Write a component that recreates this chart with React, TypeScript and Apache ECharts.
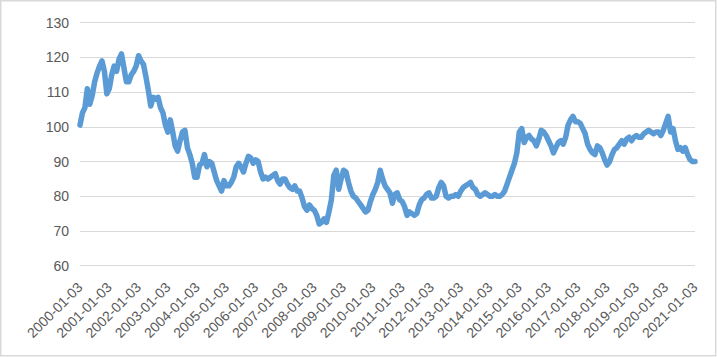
import React, { useEffect, useRef } from "react";
import * as echarts from "echarts";

const years = ["2000","2001","2002","2003","2004","2005","2006","2007","2008","2009","2010","2011","2012","2013","2014","2015","2016","2017","2018","2019","2020"];

const v2000 = [100.5, 104, 105.5, 111, 106.5, 109, 113, 115.5, 117.5, 119, 116, 109.5];
const v2001 = [111, 115, 117.5, 116, 119.5, 121, 117, 113, 113, 115, 116, 117.5];
const v2002 = [120.5, 119, 118, 114.5, 110.5, 106, 108.5, 108, 108.5, 105.5, 104, 100.5];
const v2003 = [98.5, 102, 98.5, 94.5, 93, 96, 98.5, 99, 94, 92, 89.5, 85.5];
const v2004 = [85.5, 89, 89.5, 92, 88.5, 90, 89.5, 87, 84.5, 83, 81.5, 84.5];
const v2005 = [83, 83, 84, 85.5, 88.5, 89.5, 88.5, 87, 89.5, 91.5, 91, 89.5];
const v2006 = [90.5, 90, 87, 85, 85.5, 85, 85.5, 86, 86.5, 84.5, 83.5, 85];
const v2007 = [85, 83.5, 82.5, 82, 83, 81.5, 81.5, 79.5, 77, 76, 77.5, 76.5];
const v2008 = [76, 74.5, 72, 72.5, 73.5, 72.5, 75.5, 79, 86, 87.5, 82, 85];
const v2009 = [87.5, 87, 84, 81.5, 80, 79.5, 78.5, 77.5, 76.5, 75.5, 76, 78.5];
const v2010 = [80.5, 82, 84, 87.5, 85, 83, 82, 81, 78, 80.5, 81, 79];
const v2011 = [78.5, 77, 74.5, 75.5, 75, 74.5, 75, 77.5, 79, 79.5, 80.5, 81];
const v2012 = [79.5, 79.5, 80, 82.5, 84, 83, 80, 79.5, 80, 80, 80.5, 80];
const v2013 = [81.5, 82.5, 83, 83.5, 84, 82.5, 82, 80.5, 80, 80.5, 81, 80.5];
const v2014 = [80, 80, 80.5, 80, 80, 80.5, 81.5, 83.5, 85.5, 87.5, 89.5, 92.5];
const v2015 = [98.5, 99.5, 95.5, 97, 97.5, 96.5, 96, 94.5, 96.5, 99, 98.5, 97.5];
const v2016 = [96, 94.5, 92.5, 94, 95.5, 96, 95, 97, 100.5, 102, 103, 101.5];
const v2017 = [101.5, 101, 99.5, 98, 95, 93.5, 92.5, 92, 94.5, 94, 92.5, 90.5];
const v2018 = [89, 90, 92, 93.5, 94, 95, 96, 95, 96.5, 97, 96, 97];
const v2019 = [97.5, 97, 97, 98, 98.5, 99, 98.5, 98, 98.5, 98.5, 97.5, 99];
const v2020 = [101, 103, 98.5, 99.5, 96, 93.5, 94, 93, 94, 92, 90.5, 90];
const v2021 = [90];

const yearly = [v2000, v2001, v2002, v2003, v2004, v2005, v2006, v2007, v2008, v2009, v2010, v2011, v2012, v2013, v2014, v2015, v2016, v2017, v2018, v2019, v2020];

const categories: string[] = [];
const values: number[] = [];
yearly.forEach((arr, yi) => {
  arr.forEach((v, mi) => {
    categories.push(`${years[yi]}-${String(mi + 1).padStart(2, "0")}-03`);
    values.push(v);
  });
});
categories.push("2021-01-03");
values.push(...v2021);

const FONT = "'Liberation Sans', Arial, sans-serif";

export default function App() {
  const ref = useRef<HTMLDivElement>(null);
  useEffect(() => {
    if (!ref.current) return;
    const chart = echarts.init(ref.current, null, { renderer: "svg" });
    chart.setOption({
      animation: false,
      backgroundColor: "#ffffff",
      grid: { left: 80, right: 22, top: 22.7, bottom: 91.3, containLabel: false },
      xAxis: {
        type: "category",
        data: categories,
        boundaryGap: false,
        axisLine: { show: false },
        axisTick: { show: false },
        splitLine: { show: false },
        axisLabel: {
          interval: 11,
          rotate: 45,
          margin: 19,
          color: "#595959",
          fontSize: 14,
          fontFamily: FONT,
        },
      },
      yAxis: {
        type: "value",
        min: 60,
        max: 130,
        interval: 10,
        axisLine: { show: false },
        axisTick: { show: false },
        splitLine: { lineStyle: { color: "#d9d9d9", width: 1.2 } },
        axisLabel: { color: "#595959", fontSize: 14, fontFamily: FONT, margin: 11 },
      },
      graphic: [
        {
          type: "rect",
          shape: { x: 0.75, y: 0.75, width: 715, height: 355 },
          style: { fill: "none", stroke: "#d9d9d9", lineWidth: 1.5 },
          silent: true,
        },
      ],
      series: [
        {
          type: "line",
          data: values,
          showSymbol: false,
          symbol: "none",
          lineStyle: { color: "#5b9bd5", width: 5.5, join: "round", cap: "round" },
        },
      ],
    });
    return () => chart.dispose();
  }, []);
  return (
    <div
      ref={ref}
      style={{ position: "absolute", left: 0, top: 0, width: 717, height: 357 }}
    />
  );
}
